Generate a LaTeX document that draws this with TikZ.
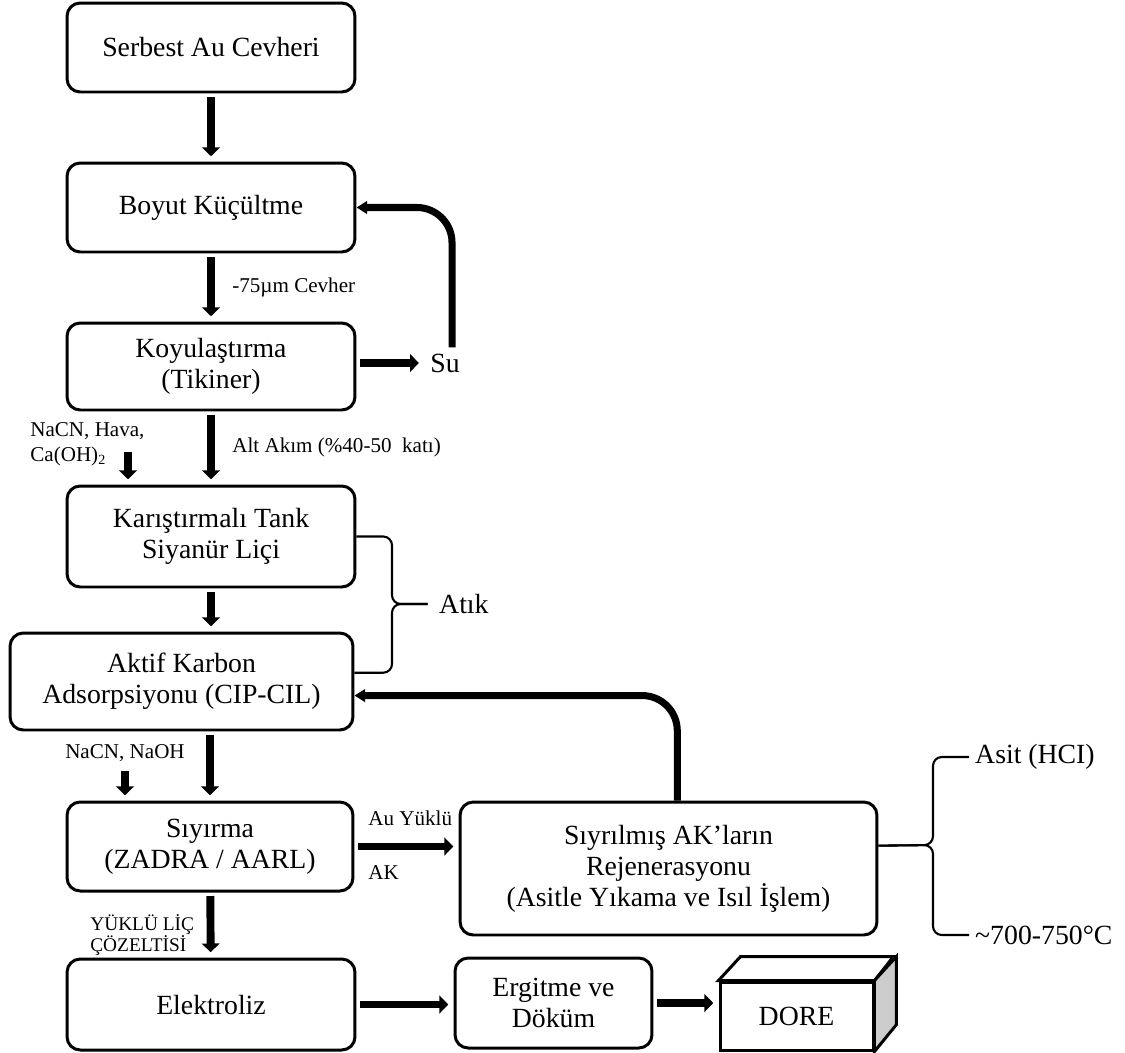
\documentclass[tikz,border=0pt]{standalone}
\usepackage{fontspec}
\setmainfont{Liberation Serif}
\usetikzlibrary{positioning, arrows.meta, calc}
\newcommand{\mainsize}{\fontsize{15.8}{17.6}\selectfont}
\newcommand{\labsize}{\fontsize{12}{14.2}\selectfont}
\newcommand{\capsize}{\fontsize{11}{11.4}\selectfont}

\begin{document}
\begin{tikzpicture}[x=0.02cm, y=-0.02cm,
    stage/.style={draw, line width=1.7pt, rounded corners=7.5pt, align=center, inner sep=0pt, font=\mainsize, minimum width=5.76cm, minimum height=1.78cm},
    flow/.style={line width=4.5pt, -{Triangle[width=10pt,length=5pt]}, shorten <=2pt, shorten >=3pt},
    back/.style={line width=4pt, -{Triangle[width=7pt,length=6pt]}, rounded corners=20pt},
    brace/.style={line width=1.2pt, rounded corners=5pt},
    lab/.style={font=\labsize, align=left, inner sep=0pt}]
    \useasboundingbox (0,0) rectangle (1125,1052);

    % main line
    \node[stage] (ore) at (211,47.5) {Serbest Au Cevheri};
    \node[stage] (size) at (211,207.5) {Boyut Küçültme};
    \node[stage, minimum height=1.74cm] (thick) at (211,366.5) {Koyulaştırma\\(Tikiner)};
    \node[stage, minimum height=2.02cm] (leach) at (211,536.5) {Karıştırmalı Tank\\Siyanür Liçi};
    \node[stage, minimum width=6.86cm, minimum height=1.94cm] (cip) at (181.5,681.5) {Aktif Karbon\\Adsorpsiyonu (CIP-CIL)};
    \node[stage, minimum width=5.72cm] (strip) at (210,846.5) {Sıyırma\\(ZADRA / AARL)};
    \node[stage, minimum width=8.34cm, minimum height=2.66cm] (regen) at (668.5,868.5) {Sıyrılmış AK’ların\\Rejenerasyonu\\(Asitle Yıkama ve Isıl İşlem)};
    \node[stage, minimum height=1.82cm] (elec) at (211,1004.5) {Elektroliz};
    \node[stage, minimum width=3.94cm, minimum height=1.8cm] (melt) at (553.5,1003) {Ergitme ve\\Döküm};
    \node[draw, line width=1.7pt, font=\mainsize, minimum width=3.06cm, minimum height=1.36cm] (dore) at (796.5,1016) {DORE};
    \draw[line width=1.7pt, fill=white] (dore.north west) -- ++(22,-24) -- ++(153,0) -- (dore.north east) -- cycle;
    \draw[line width=1.7pt, fill=gray!40] (dore.north east) -- ++(22,-24) -- ++(0,68) -- (dore.south east) -- cycle;

    % side texts
    \node[font=\mainsize] (su) at (445,363) {Su};
    \node[font=\mainsize, anchor=west] (atik) at (433,604) {Atık};
    \node[font=\mainsize, anchor=west] (acid) at (969,757) {Asit (HCI)};
    \node[font=\mainsize, anchor=west] (temp) at (969,935) {\textasciitilde700-750°C};

    \node[lab, anchor=west] (fine) at (232,287) {-75µm Cevher};
    \node[lab, anchor=west] (under) at (232,447) {Alt Akım (\%40-50\ \ katı)};
    \node[lab, anchor=west] (reag1) at (30,444.5) {NaCN, Hava,\\Ca(OH)\textsubscript{2}};
    \coordinate (add1) at (128,448);
    \node[lab] (reag2) at (125,753) {NaCN, NaOH};
    \node[lab, anchor=west] (loaded) at (368,818) {Au Yüklü};
    \node[lab, anchor=west] (ak) at (368,873) {AK};
    \node[font=\capsize, align=left, anchor=west, inner sep=0pt] (preg) at (90,935) {YÜKLÜ LİÇ\\ÇÖZELTİSİ};

    % arrows
    \draw[flow] (ore) -- (size);
    \draw[flow] (size) -- (thick);
    \draw[flow] (thick) -- (leach);
    \draw[flow] (leach.south) -- (leach.south |- cip.north);
    \draw[flow] (strip.north |- cip.south) -- (strip.north);
    \draw[flow] (strip) -- (elec);
    \draw[flow] (elec.east) -- (elec.east -| melt.west);
    \draw[flow] (melt.east) -- (melt.east -| dore.west);
    \draw[flow] ([yshift=2pt]thick.east) -- ([yshift=2pt]thick.east -| su.west);
    \draw[flow] (strip.east) -- (strip.east -| regen.west);
    \draw[flow] (add1) -- (add1 |- leach.north);
    \draw[flow, shorten <=5pt] (reag2.south) -- (reag2.south |- strip.north);

    % recycle lines
    \draw[back] ([xshift=4pt]su.north) |- (size.east);
    \draw[back] ([xshift=5pt]regen.north) |- ([yshift=-8pt]cip.east);

    % braces
    \draw[brace] (leach.east) -| (392,604) -- ([xshift=-3pt]atik.west);
    \draw[brace] ([yshift=5pt]cip.east) -| (392,604) -- ([xshift=-3pt]atik.west);
    \draw[brace] ([yshift=13pt]regen.east) -- (933,845) |- (acid.west);
    \draw[brace] ([yshift=13pt]regen.east) -- (933,845) |- (temp.west);
\end{tikzpicture}
\end{document}
